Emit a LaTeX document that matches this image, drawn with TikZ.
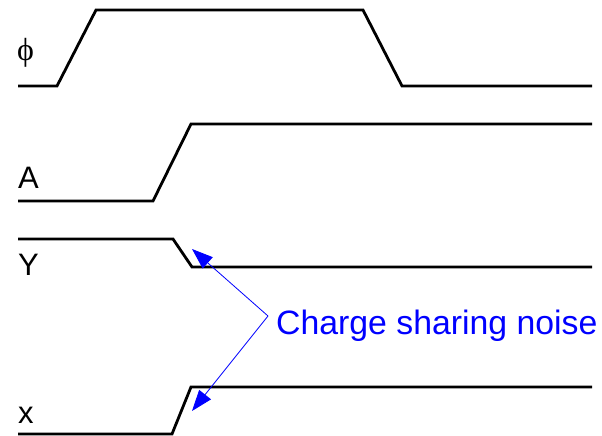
\documentclass[tikz,border=0pt]{standalone}
\usepackage{fontspec}
\setmainfont{Liberation Sans}
\newfontfamily\phifont{Liberation Serif}
\usetikzlibrary{arrows.meta}
\begin{document}
\begin{tikzpicture}[x=1pt,y=-1pt,
  wave/.style={line width=2.8pt,line join=miter,black},
  sig/.style={font=\fontsize{31}{31}\selectfont,inner sep=0pt,anchor=base west},
  note/.style={blue,line width=0.8pt,-{Triangle[length=21pt,width=15pt]}}]
\useasboundingbox (0,0) rectangle (602,436);
% signal waveforms
\draw[wave] (18,86) -- (57,86) -- (96,10) -- (363,10) -- (402,86) -- (592,86);
\draw[wave] (18,201) -- (153,201) -- (191,124) -- (592,124);
\draw[wave] (18,239) -- (173,239) -- (192,267) -- (592,267);
\draw[wave] (18,434) -- (172,434) -- (191,387) -- (592,387);
% signal names
\node[sig] (lphi) at (17,60) {\phifont\fontsize{32}{32}\selectfont ϕ};
\node[sig] (lA) at (18,188) {A};
\node[sig] (lY) at (18,275) {Y};
\node[sig] (lx) at (18,423) {x};
% annotation
\node[sig,blue,font=\fontsize{33.8}{33.8}\selectfont] (note) at (276,334) {Charge sharing noise};
\coordinate (apex) at (268,316);
\coordinate (tipY) at (192,249);
\coordinate (tipx) at (192,411);
\draw[note] (apex) -- (tipY);
\draw[note] (apex) -- (tipx);
\end{tikzpicture}
\end{document}
